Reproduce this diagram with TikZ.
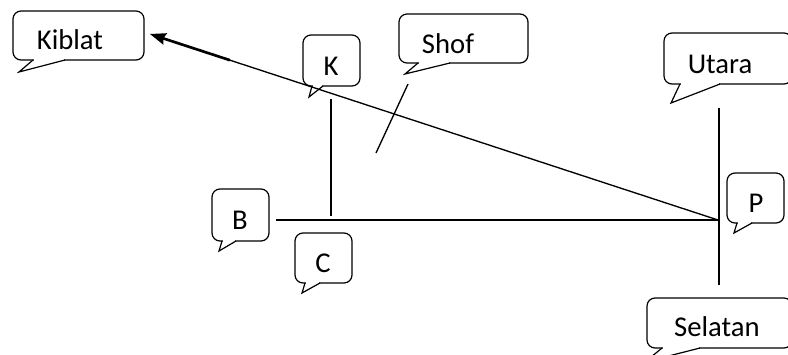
\documentclass[tikz,border=0pt]{standalone}
\usepackage{fontspec}
\setmainfont{Carlito}
\usetikzlibrary{arrows.meta}
\begin{document}
\begin{tikzpicture}[x=0.75pt,y=-0.75pt,
  bubble/.style={draw, line width=0.9pt, rounded corners=6pt},
  tail/.style={draw, line width=0.9pt, line join=miter},
  lbl/.style={anchor=base, inner sep=0pt, font=\fontsize{21.5}{25}\selectfont},
  line/.style={draw, line width=1pt}]
\useasboundingbox (0,0) rectangle (788,354);
\clip (0,0) rectangle (788,354);

% speech bubbles: name/left/top/right/bottom/tail base a/tail base b/tip x/tip y/text x/text baseline/text
\foreach \nm/\l/\t/\r/\b/\ta/\tb/\px/\py/\tx/\ty/\txt in {
  kiblat/13/11/144/60/33/65/19/72/70/49/Kiblat,
  k/303/35/360/86/312/323/309/97/331/75/K,
  shof/399/14/528/63/418/450/405/74/448/53/Shof,
  utara/664/33/792/84/680/720/671/103/720/73/Utara,
  p/727/173/784/223/737/752/734/233/756/212/P,
  b/212/189/269/241/222/236/219/251/240/229/B,
  c/295/233/352/283/305/320/302/293/323/272/C,
  selatan/647/298/792/348/662/700/645/362/717/336/Selatan}{
  \draw[bubble] (\l,\t) rectangle (\r,\b);
  \fill[white] ({\ta+1},{\b-2}) rectangle ({\tb-1},{\b+2});
  \draw[tail] (\ta,\b) -- (\px,\py) -- (\tb,\b);
  \node[lbl] (\nm) at (\tx,\ty) {\txt};
}

% geometry of the construction
\coordinate (pt) at (718,220);
\coordinate (qiblatip) at (150,34);
\coordinate (thickA) at (163,38.3);
\coordinate (thickB) at (230,60.2);
\coordinate (kTop) at (331,99);
\coordinate (cBot) at (331,216);
\coordinate (bEnd) at (276,220);
\coordinate (nTop) at (719,108);
\coordinate (sBot) at (719,285);
\coordinate (shA) at (408,84);
\coordinate (shB) at (376,153);

\draw[line, -{Stealth[length=12pt,width=9pt,inset=1.5pt]}] (pt) -- (qiblatip);
\draw[line, line width=2pt] (thickA) -- (thickB);
\draw[line] (kTop) -- (cBot);
\draw[line] (bEnd) -- (pt);
\draw[line] (nTop) -- (sBot);
\draw[line] (shA) -- (shB);
\end{tikzpicture}
\end{document}
